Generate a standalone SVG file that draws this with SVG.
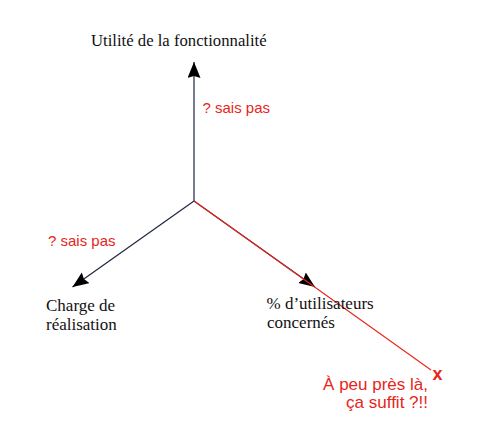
<svg xmlns="http://www.w3.org/2000/svg" width="480" height="443" viewBox="0 0 480 443">
<style>
.ax{stroke:#1e2640;stroke-width:1.2;fill:none}
.red{stroke:#e8251b;stroke-width:1.1;fill:none}
.lbl{font-family:"Liberation Serif","Times New Roman",serif;font-size:17px;fill:#111}
.note{font-family:"Liberation Sans",Arial,sans-serif;font-size:15px;fill:#e8251b}
.big{font-family:"Liberation Sans",Arial,sans-serif;font-size:17px;fill:#e8251b}
</style>
<defs>
<marker id="arr" markerUnits="userSpaceOnUse" markerWidth="17" markerHeight="14" refX="16" refY="6.5" orient="auto">
<path d="M0,0 L16,6.5 L0,13 L2,6.5 z" fill="#000"/>
</marker>
</defs>
<rect width="480" height="443" fill="#fff"/>
<g id="connectors">
<line class="ax" x1="194" y1="201" x2="194" y2="62" marker-end="url(#arr)"/>
<line class="ax" x1="194" y1="201" x2="72.5" y2="287" marker-end="url(#arr)"/>
<line class="ax" x1="194" y1="201" x2="315" y2="287" marker-end="url(#arr)"/>
<line class="red" x1="194" y1="201" x2="431" y2="370"/>
</g>
<g id="utilite">
<text class="lbl" x="91" y="46" style="font-size:16.7px">Utilité de la fonctionnalité</text>
</g>
<g id="note-utilite">
<text class="note" x="202.5" y="112.5">? sais pas</text>
</g>
<g id="note-charge">
<text class="note" x="48" y="246">? sais pas</text>
</g>
<g id="charge">
<text class="lbl" x="46" y="310.5">Charge de</text>
<text class="lbl" x="46" y="330">réalisation</text>
</g>
<g id="utilisateurs">
<text class="lbl" x="266.5" y="309">% d’utilisateurs</text>
<text class="lbl" x="267" y="328">concernés</text>
</g>
<g id="point">
<text class="big" x="437.5" y="380" text-anchor="middle" style="font-weight:bold;font-size:18px">x</text>
<text class="big" x="428" y="390" text-anchor="end">À peu près là,</text>
<text class="big" x="428" y="407.5" text-anchor="end">ça suffit ?!!</text>
</g>
</svg>
